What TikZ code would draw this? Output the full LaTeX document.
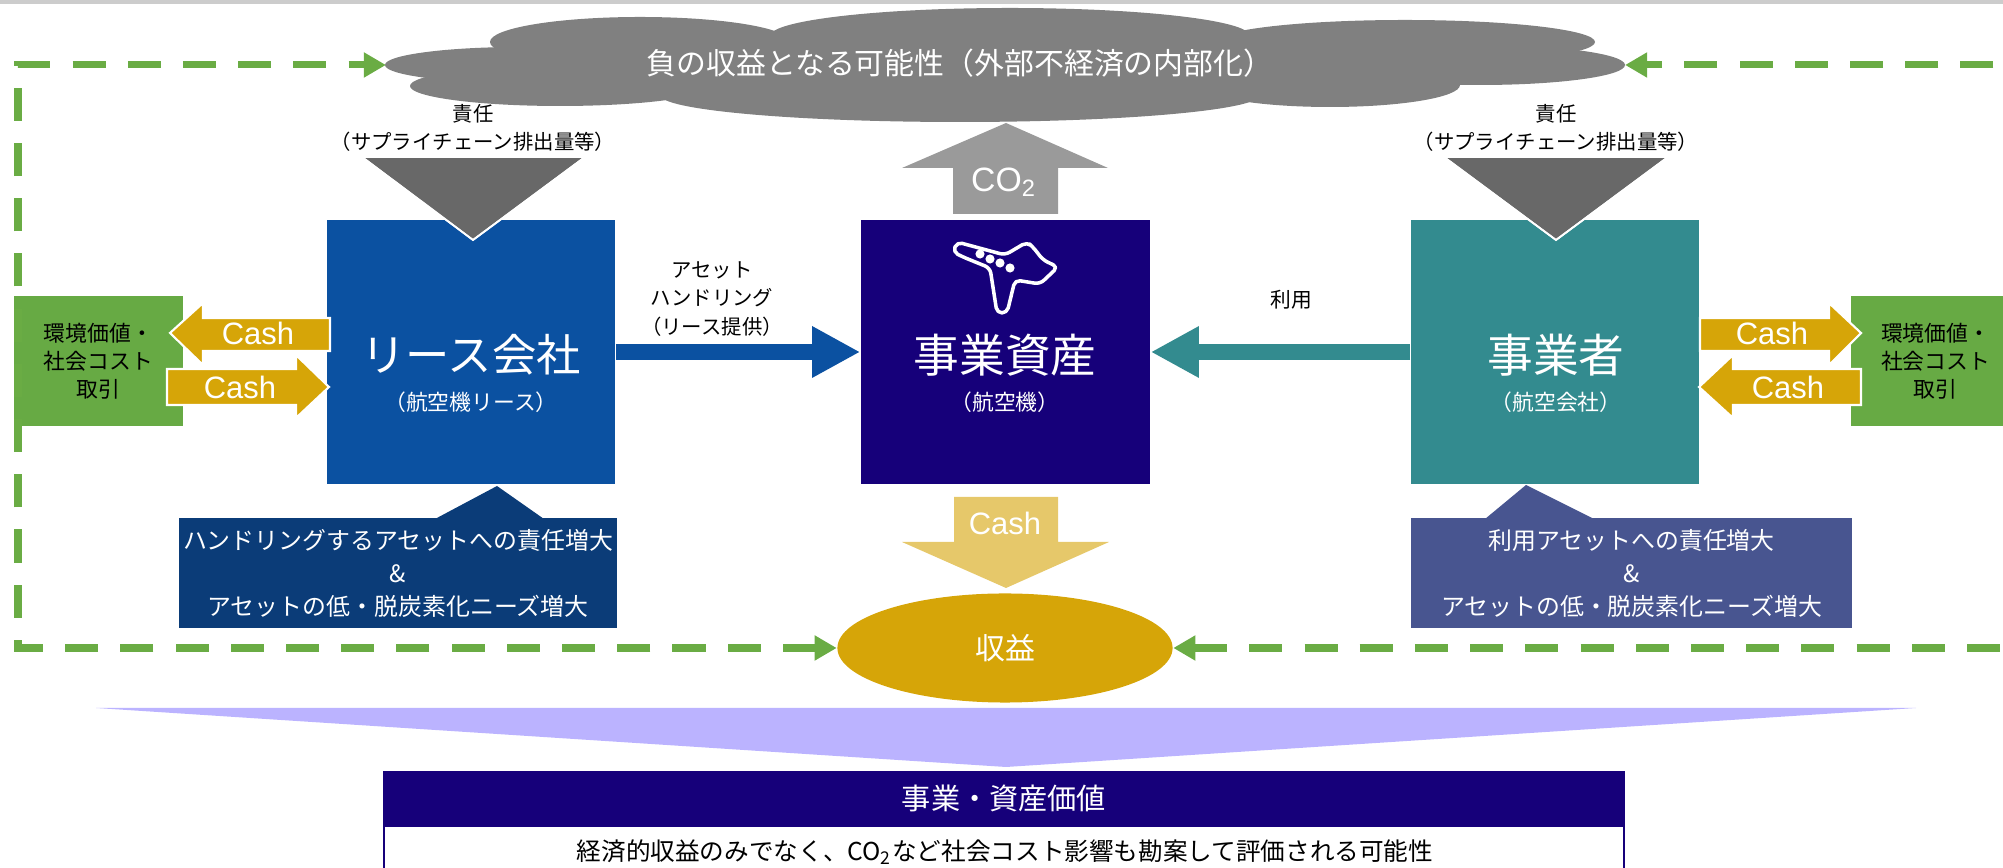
\documentclass[tikz,border=0pt]{standalone}
\usepackage{fontspec}
\setmainfont{Noto Sans CJK JP}
\newfontfamily\latinfont{Liberation Sans}
\usetikzlibrary{arrows.meta, shapes.geometric}
\newcommand{\setfs}[2]{\fontsize{#1}{#2}\selectfont}
\definecolor{leaseblue}{RGB}{11,81,161}
\definecolor{assetnavy}{RGB}{22,0,122}
\definecolor{userteal}{RGB}{51,139,143}
\definecolor{leafgreen}{RGB}{103,170,68}
\definecolor{dashgreen}{RGB}{106,172,68}
\definecolor{gold}{RGB}{214,165,8}
\definecolor{palegold}{RGB}{230,200,106}
\definecolor{cloudgray}{RGB}{128,128,128}
\definecolor{darkgray}{RGB}{104,104,104}
\definecolor{co2gray}{RGB}{154,154,154}
\definecolor{leasenote}{RGB}{11,60,120}
\definecolor{usernote}{RGB}{72,85,144}
\definecolor{lavender}{RGB}{187,179,255}

\begin{document}
\begin{tikzpicture}[x=0.01cm, y=-0.01cm, >={Triangle[length=6.3pt,width=6.8pt]},
    corp/.style     = {inner sep=0pt, minimum width=2.88cm, minimum height=2.64cm},
    bigtxt/.style   = {white, inner sep=0pt, font=\setfs{12.6pt}{14pt}},
    subtxt/.style   = {white, inner sep=0pt, font=\setfs{6.2pt}{8pt}},
    lbl/.style      = {align=center, inner sep=0pt, font=\setfs{5.8pt}{8.2pt}},
    trade/.style    = {fill=leafgreen, inner sep=0pt, minimum width=1.69cm, minimum height=1.30cm, align=center, font=\setfs{6.2pt}{8pt}},
    cashpoly/.style = {fill=gold, draw=white, line width=0.6pt},
    cashtxt/.style  = {white, inner sep=0pt, font=\latinfont\setfs{8.8pt}{10pt}},
    notebox/.style  = {inner sep=0pt, minimum height=1.10cm, align=center, text=white, font=\setfs{6.8pt}{9.4pt}},
    blame/.style    = {fill=darkgray, draw=white, line width=0.5pt},
    feedback/.style = {draw=dashgreen, line width=2pt, dash pattern=on 9.4pt off 6.3pt, <->},
    conn/.style     = {line width=4.55pt, -{Triangle[length=13.7pt,width=13.7pt]}}
  ]
  \useasboundingbox (0,0) rectangle (2003,868);
  \clip (0,0) rectangle (2003,868);
  \fill[black!20] (0,0) rectangle (2003,4);

  % cloud on top (lobes), with an invisible outline node for the anchors
  \def\lobes{(520,65)/135/18, (560,86)/150/20, (640,42)/150/25, (1010,36)/240/28, (1405,42)/190/22,
    (1480,65)/145/20, (960,95)/300/27, (1330,85)/130/22, (1005,65)/520/35}
  \foreach \c/\rx/\ry in \lobes
    \fill[cloudgray] \c ellipse[x radius=\rx, y radius=\ry];
  \node[ellipse, inner sep=0pt, minimum width=12.37cm, minimum height=0.7cm] (negcloud) at (1005.5,65) {};
  \node[white, inner sep=0pt, font=\setfs{8.5pt}{10pt}] (negtxt) at (960,63) {負の収益となる可能性（外部不経済の内部化）};

  % three main boxes
  \node[corp, fill=leaseblue] (lease) at (471,352) {};
  \node[corp, fill=assetnavy, minimum width=2.89cm] (asset) at (1005.5,352) {};
  \node[corp, fill=userteal] (user) at (1555,352) {};
  \node[bigtxt] (leaseT) at (471,355) {リース会社};
  \node[subtxt] (leaseS) at (471,402) {（航空機リース）};
  \node[bigtxt, font=\setfs{13pt}{14pt}] (assetT) at (1005,355) {事業資産};
  \node[subtxt] (assetS) at (1005,402) {（航空機）};
  \node[bigtxt, font=\setfs{13pt}{14pt}] (userT) at (1556,355) {事業者};
  \node[subtxt] (userS) at (1556,402) {（航空会社）};

  % plane icon
  \draw[white, line width=1pt, rounded corners=1.5pt, line join=round]
    (957,242) -- (953,252) -- (963,257) -- (990,268) -- (997,313) -- (1007,313) -- (1015,280)
    -- (1040,284) -- (1058,267) -- (1043,260) -- (1033,247) -- (1027,242) -- (1005,255) -- cycle;
  \foreach \p in {(980,254),(990,259),(1000,263),(1010,268)}
    \fill[white] \p circle[radius=1.3pt];

  % responsibility triangles
  \fill[blame] (362,157) -- (585,157) -- (473,240) -- cycle;
  \fill[blame] (1444,157) -- (1668,157) -- (1556,240) -- cycle;
  \draw[white, line width=0.5pt] (362,157) -- (473,240) -- (585,157);
  \draw[white, line width=0.5pt] (1444,157) -- (1556,240) -- (1668,157);
  \node[lbl] (blameL) at (473,128) {責任\\（サプライチェーン排出量等）};
  \node[lbl] (blameR) at (1556,128) {責任\\（サプライチェーン排出量等）};

  % CO2 up, cash down
  \fill[co2gray] (1006,123) -- (1108,168) -- (1058,168) -- (1058,214) -- (953,214) -- (953,168) -- (902,168) -- cycle;
  \node[cashtxt, font=\latinfont\setfs{9.6pt}{10pt}] (co2) at (1004,182) {CO\textsubscript{2}};
  \fill[palegold] (954,497) -- (1058,497) -- (1058,542) -- (1109,542) -- (1006,588) -- (902,542) -- (954,542) -- cycle;
  \node[cashtxt] (cashD) at (1005,523) {Cash};

  % connectors to the asset
  \draw[conn, leaseblue] (lease.east) -- (asset.west);
  \draw[conn, userteal] (user.west) -- (asset.east);
  \node[lbl] (handling) at (712,299) {アセット\\ハンドリング\\（リース提供）};
  \node[lbl, font=\setfs{5.9pt}{8pt}] (use) at (1291,300) {利用};

  % trade boxes and cash arrows
  \node[trade] (tradeL) at (98.5,361) {環境価値・\\社会コスト\\取引};
  \node[trade] (tradeR) at (1935.5,361) {環境価値・\\社会コスト\\取引};
  \draw[cashpoly] (170,333) -- (203,303) -- (203,318) -- (330,318) -- (330,351) -- (203,351) -- (203,365) -- cycle;
  \draw[cashpoly] (167,369) -- (296,369) -- (296,355) -- (329,387) -- (296,418) -- (296,405) -- (167,405) -- cycle;
  \draw[cashpoly] (1700,318) -- (1829,318) -- (1829,303) -- (1861,333) -- (1829,365) -- (1829,351) -- (1700,351) -- cycle;
  \draw[cashpoly] (1699,387) -- (1733,355) -- (1733,369) -- (1861,369) -- (1861,405) -- (1733,405) -- (1733,418) -- cycle;
  \node[cashtxt] (cashL1) at (258,333) {Cash};
  \node[cashtxt] (cashL2) at (240,387) {Cash};
  \node[cashtxt] (cashR1) at (1772,333) {Cash};
  \node[cashtxt] (cashR2) at (1788,387) {Cash};

  % notes below
  \fill[leasenote] (435,519) -- (497,486) -- (544,519) -- cycle;
  \fill[usernote] (1485,519) -- (1526,485) -- (1594,519) -- cycle;
  \node[notebox, fill=leasenote, minimum width=4.38cm] (noteL) at (398,573)
    {ハンドリングするアセットへの責任増大\\\&\\アセットの低・脱炭素化ニーズ増大};
  \node[notebox, fill=usernote, minimum width=4.41cm] (noteR) at (1631.5,573)
    {利用アセットへの責任増大\\\&\\アセットの低・脱炭素化ニーズ増大};

  % income and feedback loop
  \node[ellipse, fill=gold, inner sep=0pt, minimum width=3.35cm, minimum height=1.09cm,
        text=white, font=\setfs{8.5pt}{10pt}] (income) at (1005,648) {収益};
  \coordinate (lb) at (18,648);
  \coordinate (lt) at (18,65);
  \coordinate (rb) at (2020,648);
  \coordinate (rt) at (2020,65);
  \draw[feedback] (income.west) -- (lb) -- (lt) -- (negcloud.west);
  \draw[feedback] (income.east) -- (rb) -- (rt) -- (negcloud.east);

  % value box at the bottom
  \fill[lavender] (96,708) -- (1916,708) -- (1006,767) -- cycle;
  \draw[assetnavy, line width=0.6pt, fill=white] (384,826) rectangle (1624,900);
  \node[fill=assetnavy, inner sep=0pt, minimum width=12.42cm, minimum height=0.55cm,
        text=white, font=\setfs{8.3pt}{10pt}] (value) at (1004,798.5) {事業・資産価値};
  \node[inner sep=0pt, font=\setfs{7pt}{9pt}] (valuenote) at (1005,852)
    {経済的収益のみでなく、CO\textsubscript{2}など社会コスト影響も勘案して評価される可能性};
\end{tikzpicture}
\end{document}
